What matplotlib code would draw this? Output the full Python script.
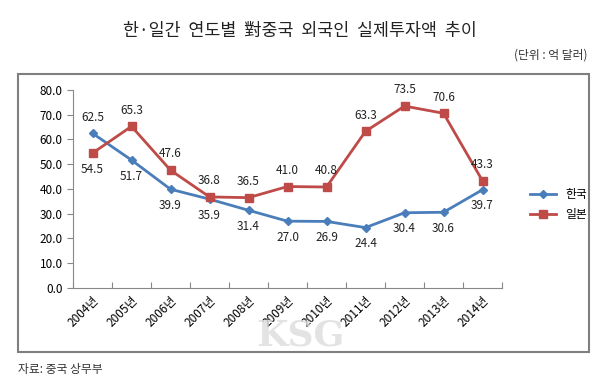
import matplotlib

matplotlib.use("Agg")
import matplotlib.pyplot as plt
from matplotlib.patches import Rectangle

plt.rcParams["font.family"] = ["Noto Sans CJK KR", "DejaVu Sans"]

years = ["2004년", "2005년", "2006년", "2007년", "2008년", "2009년",
         "2010년", "2011년", "2012년", "2013년", "2014년"]
korea = [62.5, 51.7, 39.9, 35.9, 31.4, 27.0, 26.9, 24.4, 30.4, 30.6, 39.7]
japan = [54.5, 65.3, 47.6, 36.8, 36.5, 41.0, 40.8, 63.3, 73.5, 70.6, 43.3]
# label above (+1) or below (-1) the point
korea_pos = [1, -1, -1, -1, -1, -1, -1, -1, -1, -1, -1]
japan_pos = [-1, 1, 1, 1, 1, 1, 1, 1, 1, 1, 1]

blue = "#4A7EBB"
red = "#BE4B48"

W, H = 600, 379
fig = plt.figure(figsize=(W / 100, H / 100), dpi=100)
ax = fig.add_axes([73 / W, 1 - 288 / H, (502 - 73) / W, (288 - 90) / H])

x = list(range(len(years)))
ax.plot(x, korea, color=blue, lw=2.0, marker="D", ms=4, label="한국")
ax.plot(x, japan, color=red, lw=2.0, marker="s", ms=6, label="일본")

for xi, v, p in zip(x, korea, korea_pos):
    ax.annotate(f"{v:.1f}", (xi, v), xytext=(0, 7 * p), textcoords="offset points",
                ha="center", va="bottom" if p > 0 else "top", fontsize=8.5, color="#222222")
for xi, v, p in zip(x, japan, japan_pos):
    ax.annotate(f"{v:.1f}", (xi, v), xytext=(0, 7 * p), textcoords="offset points",
                ha="center", va="bottom" if p > 0 else "top", fontsize=8.5, color="#222222")

ax.set_xlim(-0.5, len(years) - 0.5)
ax.set_ylim(0, 80)
ax.set_yticks(range(0, 81, 10))
ax.set_yticklabels([f"{v:.1f}" for v in range(0, 81, 10)], fontsize=8.5)
ax.set_xticks([i - 0.5 for i in range(len(years) + 1)], minor=False)
ax.set_xticklabels([])
ax.set_xticks(x, minor=True)
ax.set_xticklabels(years, minor=True, rotation=45, ha="right", rotation_mode="anchor",
                   fontsize=8.5)
ax.tick_params(axis="x", which="minor", length=0, pad=4)
ax.tick_params(axis="x", which="major", length=4, direction="in", color="#888888")
ax.tick_params(axis="y", length=4, direction="out", color="#888888")
for s in ["top", "right"]:
    ax.spines[s].set_visible(False)
for s in ["left", "bottom"]:
    ax.spines[s].set_color("#888888")
ax.patch.set_alpha(0)

ax.legend(loc="center left", bbox_to_anchor=(1.04, 0.42), frameon=False, fontsize=8.5,
          handlelength=2.2, labelspacing=0.6)

fig.patches.append(Rectangle((18 / W, 1 - 352 / H), (589 - 18) / W, (352 - 74) / H,
                             transform=fig.transFigure, fill=False,
                             edgecolor="#7F7F7F", lw=1.5))

fig.text(0.5, 1 - 31 / H, "한·일간  연도별  對중국  외국인  실제투자액  추이", ha="center",
         va="center", fontsize=12.5, color="#222222")
fig.text(587 / W, 1 - 55 / H, "(단위 : 억 달러)", ha="right", va="center", fontsize=8.5,
         color="#333333")
fig.text(18 / W, 1 - 369 / H, "자료: 중국 상무부", ha="left", va="center", fontsize=8.5,
         color="#333333")
fig.text(300 / W, 1 - 335 / H, "KSG", ha="center", va="center", fontsize=26,
         family="DejaVu Serif", weight="bold", color="#DDDDDD", alpha=0.8)

fig.savefig("out.png", dpi=100)
